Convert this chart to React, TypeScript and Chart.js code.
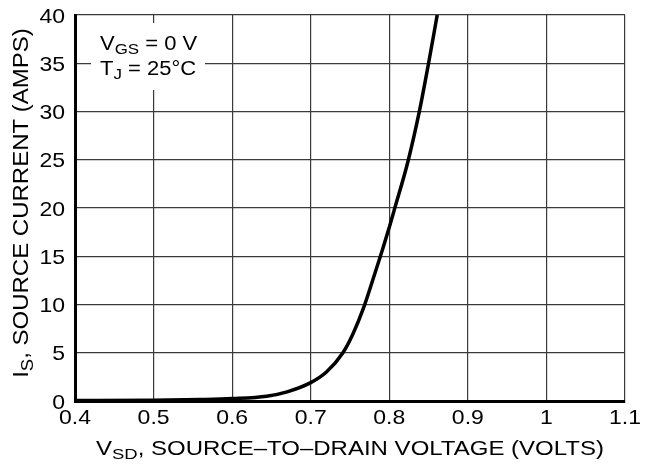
import React, { useEffect, useRef } from "react";
import { Chart, registerables } from "chart.js";

Chart.register(...registerables);

const voltage = [0.4, 0.5, 0.56, 0.6, 0.644, 0.67, 0.7, 0.72, 0.741, 0.754, 0.767, 0.78, 0.791, 0.8, 0.806, 0.824, 0.838, 0.85, 0.861];
const current = [0.05, 0.07, 0.15, 0.25, 0.5, 0.95, 1.9, 3.0, 5.0, 7.0, 9.6, 12.8, 15.6, 18.0, 19.7, 24.9, 29.9, 35, 40];
const xTicks = [0.4, 0.5, 0.6, 0.7, 0.8, 0.9, 1.0, 1.1];
const xTickLabels = ["0.4", "0.5", "0.6", "0.7", "0.8", "0.9", "1", "1.1"];
const yTicks = [0, 5, 10, 15, 20, 25, 30, 35, 40];
const yTickLabels = ["0", "5", "10", "15", "20", "25", "30", "35", "40"];

const xTitle: [string, boolean][] = [["V", false], ["SD", true], [", SOURCE–TO–DRAIN VOLTAGE (VOLTS)", false]];
const yTitle: [string, boolean][] = [["I", false], ["S", true], [", SOURCE CURRENT (AMPS)", false]];
const note1: [string, boolean][] = [["V", false], ["GS", true], [" = 0 V", false]];
const note2: [string, boolean][] = [["T", false], ["J", true], [" = 25°C", false]];

const FONT = "'Liberation Sans', Arial, Helvetica, sans-serif";
const SUB = 0.77;

function richWidth(ctx: CanvasRenderingContext2D, parts: [string, boolean][], size: number) {
  let w = 0;
  for (const [t, sub] of parts) {
    ctx.font = `${sub ? size * SUB : size}px ${FONT}`;
    w += ctx.measureText(t).width;
  }
  return w;
}

function drawRich(
  ctx: CanvasRenderingContext2D,
  parts: [string, boolean][],
  x: number,
  y: number,
  opts: { align?: "left" | "center" | "right"; rot?: number; sy?: number; drop?: number; size: number }
) {
  const size = opts.size;
  const w = richWidth(ctx, parts, size);
  ctx.save();
  ctx.translate(x, y);
  if (opts.rot) ctx.rotate(opts.rot);
  ctx.scale(1, opts.sy ?? 1);
  let cx = opts.align === "center" ? -w / 2 : opts.align === "right" ? -w : 0;
  ctx.textAlign = "left";
  ctx.textBaseline = "alphabetic";
  ctx.fillStyle = "#000";
  for (const [t, sub] of parts) {
    ctx.font = `${sub ? size * SUB : size}px ${FONT}`;
    ctx.fillText(t, cx, sub ? (opts.drop ?? 4) : 0);
    cx += ctx.measureText(t).width;
  }
  ctx.restore();
}

const decorPlugin = {
  id: "decor",
  beforeDatasetsDraw(chart: any) {
    const ctx = chart.ctx as CanvasRenderingContext2D;
    ctx.save();
    ctx.fillStyle = "#ffffff";
    ctx.fillRect(91, 23, 114, 67);
    ctx.restore();
    drawRich(ctx, note1, 100, 50, { size: 22, sy: 0.9, drop: 4.2 });
    drawRich(ctx, note2, 100, 75, { size: 22, sy: 0.9, drop: 4.2 });
  },
  afterDraw(chart: any) {
    const ctx = chart.ctx as CanvasRenderingContext2D;
    const xs = chart.scales.x;
    const ys = chart.scales.y;
    xTicks.forEach((v, i) => {
      drawRich(ctx, [[xTickLabels[i], false]], xs.getPixelForValue(v), 424, { size: 23, align: "center", sy: 0.86 });
    });
    yTicks.forEach((v, i) => {
      drawRich(ctx, [[yTickLabels[i], false]], 65, ys.getPixelForValue(v) + 7.5, { size: 23, align: "right", sy: 0.86 });
    });
    drawRich(ctx, xTitle, 350, 455, { size: 24, align: "center", sy: 0.83, drop: 4.5 });
    drawRich(ctx, yTitle, 28, 203, { size: 24, align: "center", rot: -Math.PI / 2, sy: 0.9, drop: 5 });
  },
};

export default function App() {
  const ref = useRef<HTMLCanvasElement>(null);
  useEffect(() => {
    const canvas = ref.current!;
    const chart = new Chart(canvas, {
      type: "scatter",
      data: {
        datasets: [
          {
            data: voltage.map((v, i) => ({ x: v, y: current[i] })),
            showLine: true,
            borderColor: "#000",
            borderWidth: 3.5,
            pointRadius: 0,
            cubicInterpolationMode: "monotone",
            fill: false,
          },
        ],
      },
      options: {
        animation: false,
        responsive: false,
        maintainAspectRatio: false,
        layout: { padding: { top: 15, right: 21, left: 0, bottom: 0 } },
        plugins: { legend: { display: false }, tooltip: { enabled: false } },
        scales: {
          x: {
            type: "linear",
            min: 0.4,
            max: 1.1,
            afterBuildTicks: (scale: any) => {
              scale.ticks = xTicks.map((v) => ({ value: v }));
            },
            afterFit: (scale: any) => {
              scale.height = 65;
            },
            ticks: { display: false },
            grid: { color: "#3a3a3a", lineWidth: 1.2, drawTicks: false },
            border: { color: "#000", width: 3 },
          },
          y: {
            type: "linear",
            min: 0,
            max: 40,
            afterBuildTicks: (scale: any) => {
              scale.ticks = yTicks.map((v) => ({ value: v }));
            },
            afterFit: (scale: any) => {
              scale.width = 75;
            },
            ticks: { display: false },
            grid: { color: "#3a3a3a", lineWidth: 1.2, drawTicks: false },
            border: { color: "#000", width: 3 },
          },
        },
      },
      plugins: [decorPlugin],
    });
    return () => chart.destroy();
  }, []);
  return (
    <div style={{ position: "absolute", left: 0, top: 0, width: 646, height: 466, background: "#fff" }}>
      <canvas ref={ref} width={646} height={466} style={{ width: 646, height: 466, display: "block" }} />
    </div>
  );
}
